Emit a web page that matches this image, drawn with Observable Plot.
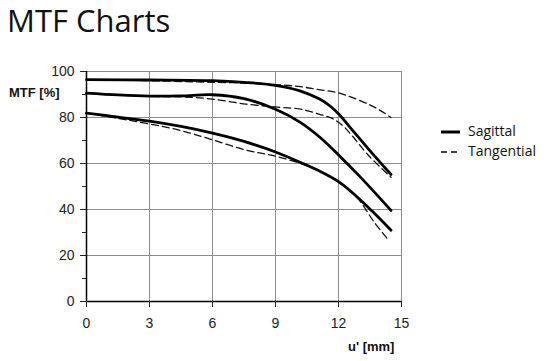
<!DOCTYPE html>
<html>
<head>
<meta charset="utf-8">
<script src="https://cdn.jsdelivr.net/npm/d3@7"></script>
<script src="https://cdn.jsdelivr.net/npm/@observablehq/plot@0.6"></script>
<style>
  body { margin: 0; background: #fff; }
  #wrap { position: relative; width: 550px; height: 361px; background: #fff; overflow: hidden; }
  #title { position: absolute; left: 7px; top: -1px; width: 300px; white-space: nowrap; font-family: "Open Sans", "Noto Sans", sans-serif; font-size: 31px; line-height: normal; color: #111; }
  #chart { position: absolute; left: 0; top: 50px; }
  .axlab { position: absolute; font-family: "Liberation Sans", Arial, sans-serif; font-weight: bold; font-size: 13px; color: #111; line-height: 13px; white-space: nowrap; }
  #legend { position: absolute; left: 441px; top: 121px; font-family: "Open Sans", "Noto Sans", sans-serif; font-size: 14px; color: #111; }
  #legend .row { height: 20px; line-height: 20px; white-space: nowrap; }
  #legend svg { vertical-align: middle; margin-right: 8px; }
</style>
</head>
<body>
<div id="wrap">
  <div id="title">MTF Charts</div>
  <div id="chart"></div>
  <div class="axlab" style="left:9px; top:86px;">MTF [%]</div>
  <div class="axlab" style="left:348px; top:340px;">u' [mm]</div>
  <div id="legend"></div>
</div>
<script>
// ---- data ----
const seriesNames = ["Sagittal", "Tangential"];
const xTicks = [0, 3, 6, 9, 12, 15];
const yTicks = [0, 20, 40, 60, 80, 100];
const yMinorTicks = [10, 30, 50, 70, 90];

// top field curves
const sagTopU = [0, 3, 6, 7.5, 9, 10.2, 11.1, 11.6, 12, 12.6, 13.4, 14.5];
const sagTopV = [96.5, 96.3, 96.0, 95.3, 94.0, 91.5, 88.0, 85.0, 81.6, 75.2, 66.6, 55.2];
const tanTopU = [0, 3, 6, 7.5, 9, 10.2, 11, 12, 13.4, 14, 14.5];
const tanTopV = [96.5, 96.0, 95.3, 95.0, 94.3, 93.4, 92.2, 90.7, 85.9, 83.0, 80.0];

// middle curves
const sagMidU = [0, 1.5, 3, 4.5, 6, 7.5, 9, 10.2, 11.1, 12.05, 13, 14.5];
const sagMidV = [90.6, 89.8, 89.3, 89.4, 89.9, 88.2, 83.6, 77.8, 71.5, 63.3, 54.5, 39.6];
const tanMidU = [0, 3, 4.5, 6, 7.6, 9, 10.2, 11.1, 11.7, 12.2, 12.7, 13.4, 14.5];
const tanMidV = [90.6, 89.2, 89.0, 88.0, 85.8, 84.6, 83.6, 81.4, 79.6, 76.5, 71.5, 63.8, 54.0];

// lower curves
const sagLowU = [0, 1.5, 3, 4.5, 6, 7.5, 9, 10.3, 11.2, 12.05, 12.8, 13.6, 14.5];
const sagLowV = [81.9, 80.2, 78.4, 76.1, 73.2, 69.6, 65.0, 60.0, 56.2, 51.8, 46.2, 39.3, 31.0];
const tanLowU = [0, 1.5, 3, 4.5, 6, 7.6, 9, 10.5, 11.3, 12.05, 12.9, 13.7, 14.4];
const tanLowV = [81.9, 79.6, 77.2, 74.3, 70.3, 65.8, 63.2, 59.0, 55.7, 51.6, 45.0, 34.5, 26.5];

// ---- build table ----
function rows(us, vs, type, curve) {
  return us.map((u, i) => ({u, v: vs[i], type, curve}));
}
const data = [
  ...rows(sagTopU, sagTopV, "Sagittal", "top"),
  ...rows(sagMidU, sagMidV, "Sagittal", "mid"),
  ...rows(sagLowU, sagLowV, "Sagittal", "low"),
  ...rows(tanTopU, tanTopV, "Tangential", "top"),
  ...rows(tanMidU, tanMidV, "Tangential", "mid"),
  ...rows(tanLowU, tanLowV, "Tangential", "low")
];
const sag = data.filter(d => d.type === "Sagittal");
const tan = data.filter(d => d.type === "Tangential");

const gridColor = "#8c8c8c";

const chart = Plot.plot({
  width: 550,
  height: 311,
  marginTop: 21,
  marginBottom: 60,
  marginLeft: 86,
  marginRight: 149,
  style: { fontFamily: "'Liberation Sans', Arial, sans-serif", fontSize: "14px", color: "#222", background: "white" },
  x: { domain: [0, 15] },
  y: { domain: [0, 100] },
  marks: [
    Plot.ruleX(xTicks.filter(t => t > 0), { stroke: gridColor, strokeWidth: 1 }),
    Plot.ruleY(yTicks.filter(t => t > 0), { stroke: gridColor, strokeWidth: 1 }),
    Plot.line(tan, { x: "u", y: "v", z: "curve", stroke: "#111", strokeWidth: 1.3, strokeDasharray: "7,4", curve: "catmull-rom" }),
    Plot.line(sag, { x: "u", y: "v", z: "curve", stroke: "#000", strokeWidth: 2.8, curve: "catmull-rom" }),
    Plot.ruleX([0], { stroke: "#000", strokeWidth: 1.5 }),
    Plot.ruleY([0], { stroke: "#000", strokeWidth: 1.5 }),
    Plot.axisX({ ticks: xTicks, tickSize: 6, tickPadding: 11, label: null, tickFormat: d => d }),
    Plot.axisY({ ticks: yTicks, tickSize: 6, tickPadding: 6, label: null, tickFormat: d => d }),
    Plot.axisY({ ticks: yMinorTicks, tickSize: 4, label: null, tickFormat: () => "" })
  ]
});
document.getElementById("chart").appendChild(chart);

// ---- legend ----
const legend = document.getElementById("legend");
seriesNames.forEach(name => {
  const row = document.createElement("div");
  row.className = "row";
  const dashed = name === "Tangential";
  row.innerHTML = `<svg width="19" height="6"><line x1="0" y1="3" x2="19" y2="3" stroke="#000" stroke-width="${dashed ? 1.3 : 3}" ${dashed ? 'stroke-dasharray="6,4"' : ''}/></svg>${name}`;
  legend.appendChild(row);
});
</script>
</body>
</html>
